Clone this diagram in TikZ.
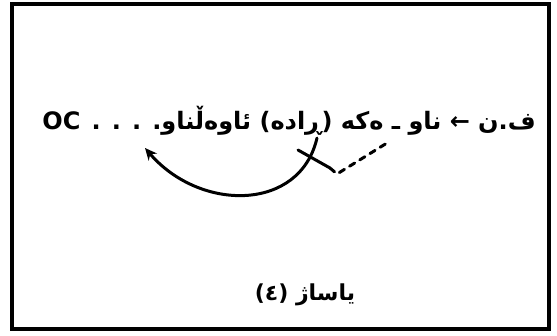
\documentclass[tikz,border=0pt]{standalone}
\usepackage{fontspec}
\newfontfamily\arabicfont[Script=Arabic]{DejaVu Sans}
\TeXXeTstate=1
\usetikzlibrary{arrows.meta}
\tikzset{
  frame/.style={draw=black, line width=3.5pt},
  txt/.style={inner sep=0pt, font=\arabicfont\bfseries\fontsize{24}{28}\selectfont},
  small/.style={inner sep=0pt, font=\arabicfont\bfseries\fontsize{22}{26}\selectfont},
  link/.style={line width=3pt, line cap=round},
  hint/.style={line width=3pt, dash pattern=on 6pt off 6pt, line cap=round}
}
\begin{document}
\begin{tikzpicture}[x=1pt, y=1pt]
\useasboundingbox (0,0) rectangle (557,-335);
\fill[white] (0,0) rectangle (557,-335);
\draw[frame] (12,-4) rectangle (549,-329);
\node[txt, anchor=base east] (line) at (536,-129)
  {\beginR ف.ن ← ناو ـ ەکە (ڕادە) ئاوەڵناو. . . . \beginL OC\endL\endR};
\node[small, anchor=base] (rule) at (305,-300) {\beginR یاساژ (٤)\endR};
\coordinate (start) at (317,-138);
\coordinate (tip) at (145,-148);
\coordinate (xa) at (298,-150);
\coordinate (xb) at (330,-168);
\coordinate (da) at (387,-143);
\draw[link, -{Stealth[length=12pt, width=11pt]}] (start) .. controls (300,-212) and (200,-212) .. (tip);
\draw[link] (xa) -- (xb);
\draw[hint] (xb) -- (337,-174) -- (da);
\end{tikzpicture}
\end{document}
